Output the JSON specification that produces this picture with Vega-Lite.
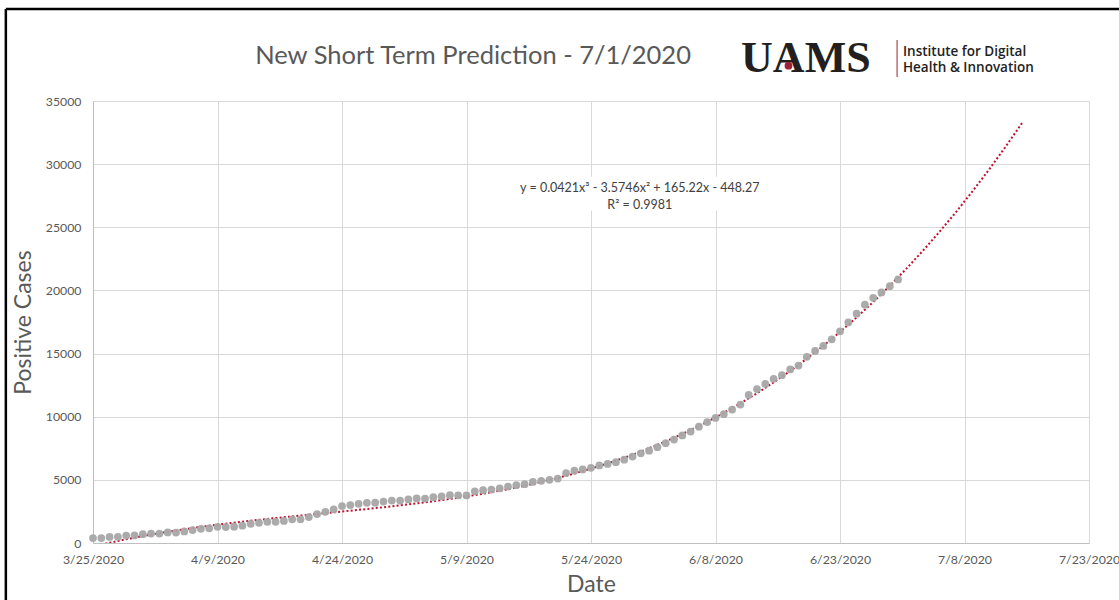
{
  "$schema": "https://vega.github.io/schema/vega-lite/v6.json",
  "width": 996,
  "height": 442,
  "autosize": {"type": "none"},
  "padding": {"left": 93, "top": 101, "right": 30, "bottom": 57},
  "background": "white",
  "config": {
    "view": {"stroke": null},
    "axis": {
      "labelFont": "Lato",
      "labelFontSize": 12.3,
      "labelColor": "#595959",
      "titleFont": "Lato",
      "titleFontSize": 23,
      "titleFontWeight": "normal",
      "titleColor": "#595959",
      "ticks": false,
      "domainColor": "#bfbfbf",
      "gridColor": "#d9d9d9",
      "gridWidth": 1
    }
  },
  "datasets": {
    "cases": [
      {"date": "2020/03/25", "cases": 390}, {"date": "2020/03/26", "cases": 395}, {"date": "2020/03/27", "cases": 480},
      {"date": "2020/03/28", "cases": 490}, {"date": "2020/03/29", "cases": 590}, {"date": "2020/03/30", "cases": 600},
      {"date": "2020/03/31", "cases": 700}, {"date": "2020/04/01", "cases": 750}, {"date": "2020/04/02", "cases": 750},
      {"date": "2020/04/03", "cases": 840}, {"date": "2020/04/04", "cases": 830}, {"date": "2020/04/05", "cases": 920},
      {"date": "2020/04/06", "cases": 1020}, {"date": "2020/04/07", "cases": 1120}, {"date": "2020/04/08", "cases": 1160},
      {"date": "2020/04/09", "cases": 1280}, {"date": "2020/04/10", "cases": 1260}, {"date": "2020/04/11", "cases": 1290},
      {"date": "2020/04/12", "cases": 1370}, {"date": "2020/04/13", "cases": 1520}, {"date": "2020/04/14", "cases": 1600},
      {"date": "2020/04/15", "cases": 1680}, {"date": "2020/04/16", "cases": 1680}, {"date": "2020/04/17", "cases": 1750},
      {"date": "2020/04/18", "cases": 1880}, {"date": "2020/04/19", "cases": 1880}, {"date": "2020/04/20", "cases": 2050},
      {"date": "2020/04/21", "cases": 2290}, {"date": "2020/04/22", "cases": 2470}, {"date": "2020/04/23", "cases": 2660},
      {"date": "2020/04/24", "cases": 2920}, {"date": "2020/04/25", "cases": 3000}, {"date": "2020/04/26", "cases": 3100},
      {"date": "2020/04/27", "cases": 3180}, {"date": "2020/04/28", "cases": 3190}, {"date": "2020/04/29", "cases": 3280},
      {"date": "2020/04/30", "cases": 3360}, {"date": "2020/05/01", "cases": 3360}, {"date": "2020/05/02", "cases": 3450},
      {"date": "2020/05/03", "cases": 3530}, {"date": "2020/05/04", "cases": 3520}, {"date": "2020/05/05", "cases": 3630},
      {"date": "2020/05/06", "cases": 3700}, {"date": "2020/05/07", "cases": 3790}, {"date": "2020/05/08", "cases": 3780},
      {"date": "2020/05/09", "cases": 3770}, {"date": "2020/05/10", "cases": 4090}, {"date": "2020/05/11", "cases": 4180},
      {"date": "2020/05/12", "cases": 4230}, {"date": "2020/05/13", "cases": 4330}, {"date": "2020/05/14", "cases": 4470},
      {"date": "2020/05/15", "cases": 4580}, {"date": "2020/05/16", "cases": 4660}, {"date": "2020/05/17", "cases": 4840},
      {"date": "2020/05/18", "cases": 4920}, {"date": "2020/05/19", "cases": 5000}, {"date": "2020/05/20", "cases": 5100},
      {"date": "2020/05/21", "cases": 5540}, {"date": "2020/05/22", "cases": 5730}, {"date": "2020/05/23", "cases": 5830},
      {"date": "2020/05/24", "cases": 5950}, {"date": "2020/05/25", "cases": 6140}, {"date": "2020/05/26", "cases": 6260},
      {"date": "2020/05/27", "cases": 6400}, {"date": "2020/05/28", "cases": 6600}, {"date": "2020/05/29", "cases": 6840},
      {"date": "2020/05/30", "cases": 7100}, {"date": "2020/05/31", "cases": 7310}, {"date": "2020/06/01", "cases": 7590},
      {"date": "2020/06/02", "cases": 7900}, {"date": "2020/06/03", "cases": 8190}, {"date": "2020/06/04", "cases": 8520},
      {"date": "2020/06/05", "cases": 8820}, {"date": "2020/06/06", "cases": 9210}, {"date": "2020/06/07", "cases": 9580},
      {"date": "2020/06/08", "cases": 9900}, {"date": "2020/06/09", "cases": 10200}, {"date": "2020/06/10", "cases": 10570},
      {"date": "2020/06/11", "cases": 10960}, {"date": "2020/06/12", "cases": 11720}, {"date": "2020/06/13", "cases": 12190},
      {"date": "2020/06/14", "cases": 12600}, {"date": "2020/06/15", "cases": 13000}, {"date": "2020/06/16", "cases": 13290},
      {"date": "2020/06/17", "cases": 13740}, {"date": "2020/06/18", "cases": 14050}, {"date": "2020/06/19", "cases": 14740},
      {"date": "2020/06/20", "cases": 15210}, {"date": "2020/06/21", "cases": 15600}, {"date": "2020/06/22", "cases": 16130},
      {"date": "2020/06/23", "cases": 16760}, {"date": "2020/06/24", "cases": 17470}, {"date": "2020/06/25", "cases": 18160},
      {"date": "2020/06/26", "cases": 18870}, {"date": "2020/06/27", "cases": 19420}, {"date": "2020/06/28", "cases": 19840},
      {"date": "2020/06/29", "cases": 20340}, {"date": "2020/06/30", "cases": 20870}
    ],
    "trend": [
      {"date": "2020/03/25", "trend": -286.6}, {"date": "2020/03/27", "trend": 16.4}, {"date": "2020/03/29", "trend": 293.7},
      {"date": "2020/03/31", "trend": 547.6}, {"date": "2020/04/02", "trend": 779.9}, {"date": "2020/04/04", "trend": 992.7},
      {"date": "2020/04/06", "trend": 1188.0}, {"date": "2020/04/08", "trend": 1367.8}, {"date": "2020/04/10", "trend": 1534.3},
      {"date": "2020/04/12", "trend": 1689.2}, {"date": "2020/04/14", "trend": 1834.8}, {"date": "2020/04/16", "trend": 1973.1},
      {"date": "2020/04/18", "trend": 2105.9}, {"date": "2020/04/20", "trend": 2235.4}, {"date": "2020/04/22", "trend": 2363.7},
      {"date": "2020/04/24", "trend": 2492.6}, {"date": "2020/04/26", "trend": 2624.2}, {"date": "2020/04/28", "trend": 2760.6},
      {"date": "2020/04/30", "trend": 2903.7}, {"date": "2020/05/02", "trend": 3055.7}, {"date": "2020/05/04", "trend": 3218.4},
      {"date": "2020/05/06", "trend": 3394.0}, {"date": "2020/05/08", "trend": 3584.4}, {"date": "2020/05/10", "trend": 3791.7},
      {"date": "2020/05/12", "trend": 4017.9}, {"date": "2020/05/14", "trend": 4265.0}, {"date": "2020/05/16", "trend": 4535.1},
      {"date": "2020/05/18", "trend": 4830.1}, {"date": "2020/05/20", "trend": 5152.0}, {"date": "2020/05/22", "trend": 5503.0},
      {"date": "2020/05/24", "trend": 5885.0}, {"date": "2020/05/26", "trend": 6300.0}, {"date": "2020/05/28", "trend": 6750.1},
      {"date": "2020/05/30", "trend": 7237.2}, {"date": "2020/06/01", "trend": 7763.5}, {"date": "2020/06/03", "trend": 8330.8},
      {"date": "2020/06/05", "trend": 8941.4}, {"date": "2020/06/07", "trend": 9597.0}, {"date": "2020/06/09", "trend": 10299.9},
      {"date": "2020/06/11", "trend": 11052.0}, {"date": "2020/06/13", "trend": 11855.3}, {"date": "2020/06/15", "trend": 12711.8},
      {"date": "2020/06/17", "trend": 13623.6}, {"date": "2020/06/19", "trend": 14592.7}, {"date": "2020/06/21", "trend": 15621.1},
      {"date": "2020/06/23", "trend": 16710.8}, {"date": "2020/06/25", "trend": 17863.9}, {"date": "2020/06/27", "trend": 19082.4},
      {"date": "2020/06/29", "trend": 20368.2}, {"date": "2020/07/01", "trend": 21723.5}, {"date": "2020/07/03", "trend": 23150.1},
      {"date": "2020/07/05", "trend": 24650.3}, {"date": "2020/07/07", "trend": 26225.9}, {"date": "2020/07/09", "trend": 27879.0},
      {"date": "2020/07/11", "trend": 29611.6}, {"date": "2020/07/13", "trend": 31425.8}, {"date": "2020/07/15", "trend": 33323.5}
    ]
  },
  "layer": [
    {
      "data": {"name": "trend"},
      "mark": {"type": "line", "color": "#c0102f", "strokeWidth": 2, "strokeDash": [2, 2.2], "clip": true},
      "encoding": {
        "x": {
          "field": "date",
          "type": "temporal",
          "scale": {"domain": [{"year": 2020, "month": 3, "date": 25}, {"year": 2020, "month": 7, "date": 23}]},
          "axis": {
            "title": "Date",
            "format": "%-m/%-d/%Y",
            "values": [
              {"year": 2020, "month": 3, "date": 25}, {"year": 2020, "month": 4, "date": 9},
              {"year": 2020, "month": 4, "date": 24}, {"year": 2020, "month": 5, "date": 9},
              {"year": 2020, "month": 5, "date": 24}, {"year": 2020, "month": 6, "date": 8},
              {"year": 2020, "month": 6, "date": 23}, {"year": 2020, "month": 7, "date": 8},
              {"year": 2020, "month": 7, "date": 23}
            ],
            "labelPadding": 10,
            "titlePadding": 8,
            "labelFlush": false,
            "labelOverlap": false
          }
        },
        "y": {
          "field": "trend",
          "type": "quantitative",
          "scale": {"domain": [0, 35000], "nice": false},
          "axis": {
            "title": "Positive Cases",
            "values": [0, 5000, 10000, 15000, 20000, 25000, 30000, 35000],
            "format": "d",
            "labelPadding": 12,
            "titlePadding": 10
          }
        }
      }
    },
    {
      "data": {"name": "cases"},
      "mark": {"type": "point", "filled": true, "color": "#a6a6a6", "size": 60, "opacity": 0.95},
      "encoding": {
        "x": {"field": "date", "type": "temporal"},
        "y": {"field": "cases", "type": "quantitative"}
      }
    },
    {
      "data": {"values": [{}]},
      "mark": {"type": "rect", "color": "white"},
      "encoding": {
        "x": {"datum": {"year": 2020, "month": 5, "date": 14}, "type": "temporal"},
        "x2": {"datum": {"year": 2020, "month": 6, "date": 13}},
        "y": {"datum": 26300, "type": "quantitative"},
        "y2": {"datum": 29000}
      }
    },
    {
      "data": {"values": [{}]},
      "mark": {"type": "text", "font": "Lato", "fontSize": 12.5, "color": "#404040", "align": "center", "baseline": "middle", "lineHeight": 17},
      "encoding": {
        "x": {"datum": {"year": 2020, "month": 5, "date": 29, "hours": 21}, "type": "temporal"},
        "y": {"datum": 28072, "type": "quantitative"},
        "text": {"value": ["y = 0.0421x³ - 3.5746x² + 165.22x - 448.27", "R² = 0.9981"]}
      }
    },
    {
      "data": {"values": [{}]},
      "mark": {"type": "text", "font": "Lato", "fontSize": 25.5, "color": "#595959", "align": "center", "baseline": "alphabetic"},
      "encoding": {
        "x": {"datum": {"year": 2020, "month": 5, "date": 9, "hours": 19}, "type": "temporal"},
        "y": {"datum": 37932, "type": "quantitative"},
        "text": {"value": "New Short Term Prediction - 7/1/2020"}
      }
    },
    {
      "data": {"values": [{}]},
      "mark": {"type": "text", "font": "Liberation Serif", "fontSize": 44, "fontWeight": "bold", "color": "#231f20", "align": "left", "baseline": "alphabetic"},
      "encoding": {
        "x": {"datum": {"year": 2020, "month": 6, "date": 11, "hours": 2}, "type": "temporal"},
        "y": {"datum": 37298, "type": "quantitative"},
        "text": {"value": "UAMS"}
      }
    },
    {
      "data": {"values": [{}]},
      "mark": {"type": "point", "filled": true, "color": "#9d2235", "size": 60, "opacity": 1},
      "encoding": {
        "x": {"datum": {"year": 2020, "month": 6, "date": 16, "hours": 19}, "type": "temporal"},
        "y": {"datum": 37800, "type": "quantitative"}
      }
    },
    {
      "data": {"values": [{}]},
      "mark": {"type": "rule", "color": "#9d2235", "strokeWidth": 1},
      "encoding": {
        "x": {"datum": {"year": 2020, "month": 6, "date": 29, "hours": 21}, "type": "temporal"},
        "y": {"datum": 39832, "type": "quantitative"},
        "y2": {"datum": 36903}
      }
    },
    {
      "data": {"values": [{}]},
      "mark": {"type": "text", "font": "Open Sans", "fontSize": 13.5, "fontWeight": 600, "color": "#222222", "align": "left", "baseline": "alphabetic", "lineHeight": 16},
      "encoding": {
        "x": {"datum": {"year": 2020, "month": 6, "date": 30, "hours": 14}, "type": "temporal"},
        "y": {"datum": 38597, "type": "quantitative"},
        "text": {"value": ["Institute for Digital", "Health & Innovation"]}
      }
    },
    {
      "data": {"values": [{}]},
      "mark": {"type": "rule", "color": "#000000", "strokeWidth": 2.5},
      "encoding": {
        "x": {"datum": {"year": 2020, "month": 3, "date": 14, "hours": 12}, "type": "temporal"},
        "x2": {"datum": {"year": 2020, "month": 8, "date": 15}},
        "y": {"datum": 42287, "type": "quantitative"}
      }
    },
    {
      "data": {"values": [{}]},
      "mark": {"type": "rule", "color": "#000000", "strokeWidth": 2.5},
      "encoding": {
        "x": {"datum": {"year": 2020, "month": 3, "date": 14, "hours": 12}, "type": "temporal"},
        "y": {"datum": 42287, "type": "quantitative"},
        "y2": {"datum": -8000}
      }
    }
  ]
}
